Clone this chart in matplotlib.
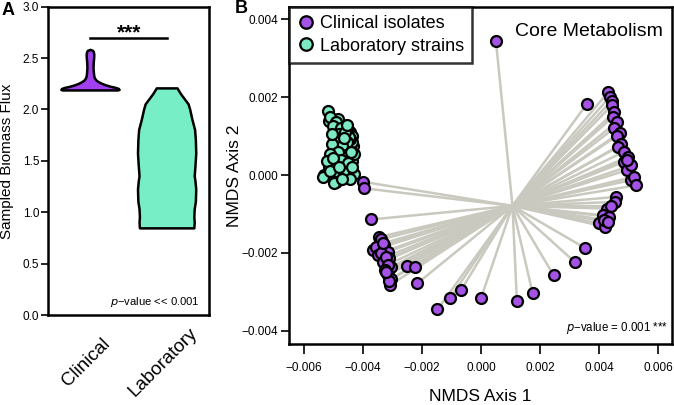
import matplotlib
matplotlib.use("Agg")
import matplotlib.pyplot as plt
import matplotlib.transforms as mtransforms
from matplotlib.lines import Line2D
import numpy as np

plt.rcParams['font.family'] = ['Liberation Sans', 'DejaVu Sans']

# ---------------- Data ----------------
# Panel A: violin outlines (y level, half-width)
groups = ["Clinical", "Laboratory"]
clin_violin_y = [2.185, 2.19, 2.20, 2.21, 2.22, 2.235, 2.25, 2.265, 2.28, 2.30, 2.32, 2.35, 2.40, 2.45, 2.50, 2.53, 2.555, 2.57, 2.58]
clin_violin_w = [0.36, 0.38, 0.37, 0.33, 0.27, 0.20, 0.15, 0.11, 0.08, 0.06, 0.05, 0.045, 0.04, 0.042, 0.048, 0.05, 0.045, 0.035, 0.0]
lab_violin_y = [0.843, 0.90, 0.95, 1.03, 1.10, 1.22, 1.30, 1.35, 1.45, 1.57, 1.70, 1.80, 1.90, 2.00, 2.05, 2.10, 2.15, 2.205]
lab_violin_w = [0.355, 0.36, 0.355, 0.36, 0.375, 0.38, 0.37, 0.36, 0.37, 0.38, 0.375, 0.365, 0.33, 0.30, 0.28, 0.23, 0.18, 0.135]
sig_y = 2.70

# Panel B: NMDS coordinates
clin_x = [0.51e-3, 3.59e-3, -3.72e-3, -4.01e-3, -3.95e-3, -2.52e-3, -2.23e-3, -2.15e-3,
          -1.47e-3, -1.05e-3, -0.66e-3, 0.00e-3, 1.22e-3, 1.75e-3, 2.46e-3, 3.19e-3, 3.52e-3,
          4.32e-3, 4.38e-3, 4.43e-3, 4.45e-3, 4.51e-3, 4.48e-3, 4.62e-3, 4.51e-3, 4.71e-3,
          4.60e-3, 4.76e-3, 4.66e-3, 4.85e-3, 5.00e-3, 4.85e-3, 4.96e-3, 5.08e-3, 5.19e-3,
          5.27e-3, 5.10e-3, 4.95e-3,
          4.57e-3, 4.54e-3, 4.28e-3, 4.40e-3, 4.12e-3, 4.34e-3, 4.00e-3, 4.22e-3, 4.18e-3, 4.30e-3,
          -3.44e-3, -3.38e-3, -3.67e-3, -3.55e-3, -3.27e-3, -3.16e-3, -3.50e-3, -3.40e-3, -3.10e-3,
          -3.33e-3, -3.22e-3, -3.05e-3, -3.15e-3, -3.16e-3, -3.25e-3, -3.03e-3, -3.08e-3, -3.12e-3,
          -3.30e-3, -3.20e-3]
clin_y = [3.44e-3, 1.83e-3, -1.14e-3, -0.17e-3, -0.34e-3, -2.34e-3, -2.37e-3, -2.78e-3,
          -3.45e-3, -3.17e-3, -2.94e-3, -3.17e-3, -3.24e-3, -3.03e-3, -2.57e-3, -2.24e-3, -1.87e-3,
          2.14e-3, 2.02e-3, 1.91e-3, 1.80e-3, 1.61e-3, 1.50e-3, 1.37e-3, 1.20e-3, 1.09e-3,
          1.00e-3, 0.79e-3, 0.73e-3, 0.60e-3, 0.47e-3, 0.34e-3, 0.13e-3, -0.13e-3, -0.04e-3,
          -0.26e-3, 0.25e-3, 0.40e-3,
          -0.56e-3, -0.69e-3, -0.86e-3, -0.80e-3, -1.03e-3, -1.07e-3, -1.24e-3, -1.33e-3, -1.15e-3, -1.20e-3,
          -1.59e-3, -1.65e-3, -1.93e-3, -1.85e-3, -1.80e-3, -1.97e-3, -2.06e-3, -2.00e-3, -2.14e-3,
          -2.23e-3, -2.10e-3, -2.37e-3, -2.30e-3, -2.57e-3, -2.45e-3, -2.66e-3, -2.83e-3, -2.72e-3,
          -1.75e-3, -2.50e-3]
lab_x = [-4.50e-3, -4.43e-3, -4.35e-3, -4.47e-3, -4.56e-3, -4.64e-3, -4.70e-3, -4.53e-3, -4.41e-3,
         -4.33e-3, -4.60e-3, -4.75e-3, -4.66e-3, -4.45e-3, -4.80e-3, -4.90e-3, -4.58e-3, -4.36e-3,
         -4.62e-3, -4.72e-3, -4.93e-3, -4.48e-3, -4.86e-3, -5.02e-3, -4.55e-3,
         -4.45e-3, -4.40e-3, -4.38e-3, -4.52e-3, -4.60e-3, -4.68e-3, -4.62e-3, -4.48e-3, -4.72e-3,
         -4.85e-3, -4.95e-3, -4.88e-3, -4.78e-3, -4.68e-3, -4.98e-3, -5.05e-3, -5.15e-3, -4.83e-3,
         -4.58e-3, -4.38e-3, -4.30e-3, -4.52e-3, -4.42e-3, -5.15e-3, -4.85e-3,
         -5.19e-3, -5.10e-3, -4.91e-3, -5.00e-3, -4.74e-3, -4.80e-3, -4.46e-3, -4.60e-3, -4.55e-3,
         -4.90e-3, -4.70e-3, -5.05e-3, -4.57e-3, -4.40e-3, -4.85e-3, -5.10e-3, -4.75e-3, -4.96e-3,
         -5.20e-3, -4.50e-3, -5.30e-3, -5.36e-3, -4.63e-3, -4.29e-3, -4.91e-3, -4.96e-3, -5.10e-3,
         -4.45e-3, -4.70e-3, -5.00e-3, -4.65e-3, -4.35e-3, -4.80e-3, -4.55e-3, -5.05e-3]
lab_y = [0.90e-3, 0.70e-3, 0.60e-3, 0.50e-3, 0.80e-3, 0.68e-3, 0.35e-3, 0.30e-3, 0.20e-3,
         0.75e-3, 1.00e-3, 0.65e-3, 0.15e-3, 1.10e-3, 0.30e-3, 0.55e-3, 0.02e-3, 1.00e-3,
         0.85e-3, 1.02e-3, 0.90e-3, 0.45e-3, 1.25e-3, 0.60e-3, 1.18e-3,
         0.75e-3, 0.45e-3, 0.85e-3, 0.65e-3, 0.40e-3, 0.55e-3, 0.25e-3, 0.15e-3, 0.88e-3,
         0.78e-3, 0.68e-3, 0.45e-3, 1.15e-3, 1.28e-3, 1.15e-3, 0.35e-3, 0.20e-3, 0.05e-3,
         -0.05e-3, 0.35e-3, 0.55e-3, 1.05e-3, 0.92e-3, 1.40e-3, 1.45e-3,
         1.65e-3, 1.50e-3, 1.37e-3, 1.25e-3, 1.20e-3, 1.05e-3, 0.98e-3, 1.10e-3, 0.85e-3,
         0.95e-3, 0.75e-3, 0.80e-3, 0.51e-3, 0.60e-3, 0.60e-3, 0.55e-3, 0.40e-3, 0.26e-3,
         0.35e-3, 0.30e-3, 0.00e-3, -0.04e-3, 0.07e-3, 0.04e-3, -0.17e-3, -0.21e-3, 0.10e-3,
         -0.10e-3, -0.10e-3, 0.45e-3, 0.95e-3, 0.20e-3, 0.20e-3, 1.30e-3, 1.05e-3]
clin_center = (1.07e-3, -0.79e-3)
lab_center = (-4.78e-3, 0.55e-3)

x_ticks = [-0.006, -0.004, -0.002, 0.0, 0.002, 0.004, 0.006]
y_ticks = [-0.004, -0.002, 0.0, 0.002, 0.004]

CLIN_V = "#A23FEE"
LAB_V = "#78EEC6"
CLIN_P = "#A552E6"
LAB_P = "#7CE8C4"
SPIDER = "#C9C9BF"

fig = plt.figure(figsize=(6.74, 4.05), dpi=100)

# ---------------- Panel A ----------------
axA = fig.add_axes([0.0717, 0.2222, 0.2388, 0.7613])
for pos, vy, vw, col in [(1, clin_violin_y, clin_violin_w, CLIN_V), (2, lab_violin_y, lab_violin_w, LAB_V)]:
    vy = np.array(vy); vw = np.array(vw)
    xs = np.concatenate([pos - vw, (pos + vw)[::-1]])
    ys = np.concatenate([vy, vy[::-1]])
    axA.fill(xs, ys, facecolor=col, edgecolor="black", linewidth=1.8, joinstyle="round", zorder=2)
axA.set_xlim(0.45, 2.55)
axA.set_ylim(0, 3.0)
axA.set_yticks([0.0, 0.5, 1.0, 1.5, 2.0, 2.5, 3.0])
axA.set_yticklabels(["0.0", "0.5", "1.0", "1.5", "2.0", "2.5", "3.0"], fontsize=8.5)
axA.tick_params(axis="y", length=5, width=1.2, pad=1.5)
axA.set_xticks([1, 2])
axA.set_xticklabels(groups, rotation=45, rotation_mode="anchor", fontsize=13.5)
axA.tick_params(axis="x", length=0, pad=0)
offset = mtransforms.ScaledTranslation(-4 / 100, -47 / 100, fig.dpi_scale_trans)
for lab in axA.get_xticklabels():
    lab.set_ha("center")
    lab.set_va("center")
    lab.set_transform(lab.get_transform() + offset)
for sp in axA.spines.values():
    sp.set_linewidth(1.8)
axA.set_ylabel("Sampled Biomass Flux", fontsize=11)
axA.yaxis.set_label_coords(-0.214, 0.5)
axA.plot([1, 2], [sig_y, sig_y], color="black", linewidth=1.8)
axA.text(1.5, 2.745, "***", ha="center", va="center", fontsize=15, fontweight="bold")
axA.text(2.43, 0.13, r"$p$" + "\u2212value << 0.001", ha="right", va="center", fontsize=8.1)
fig.text(0.003, 0.975, "A", fontsize=13, fontweight="bold", ha="left", va="center")

# ---------------- Panel B ----------------
axB = fig.add_axes([0.4288, 0.1506, 0.5685, 0.8321])
for x, y in zip(lab_x, lab_y):
    axB.plot([lab_center[0], x], [lab_center[1], y], color=SPIDER, linewidth=1.8, zorder=1)
for x, y in zip(clin_x, clin_y):
    axB.plot([clin_center[0], x], [clin_center[1], y], color=SPIDER, linewidth=1.8, zorder=1)
axB.scatter(lab_x, lab_y, s=62, facecolor=LAB_P, edgecolor="black", linewidth=1.6, zorder=3)
axB.scatter(clin_x, clin_y, s=62, facecolor=CLIN_P, edgecolor="black", linewidth=1.6, zorder=4)
axB.set_xlim(-0.0065, 0.00648)
axB.set_ylim(-0.00434, 0.00432)
axB.set_xticks(x_ticks)
axB.set_xticklabels(["\u22120.006", "\u22120.004", "\u22120.002", "0.000", "0.002", "0.004", "0.006"], fontsize=8.5)
axB.set_yticks(y_ticks)
axB.set_yticklabels(["\u22120.004", "\u22120.002", "0.000", "0.002", "0.004"], fontsize=8.5)
axB.tick_params(axis="x", length=7, width=1.2, pad=6)
axB.tick_params(axis="y", length=6, width=1.2, pad=2)
for sp in axB.spines.values():
    sp.set_linewidth(1.8)
axB.set_xlabel("NMDS Axis 1", fontsize=12.5)
axB.xaxis.set_label_coords(0.5, -0.133)
axB.set_ylabel("NMDS Axis 2", fontsize=12.5)
axB.yaxis.set_label_coords(-0.1227, 0.5)
axB.text(0.976, 0.926, "Core Metabolism", transform=axB.transAxes, ha="right", va="center", fontsize=14)
axB.text(0.99, 0.048, r"$p$" + "\u2212value = 0.001 ***", transform=axB.transAxes, ha="right", va="center", fontsize=8.3)

handles = [Line2D([], [], marker="o", linestyle="", markersize=9, markerfacecolor=CLIN_P,
                  markeredgecolor="black", markeredgewidth=1.6),
           Line2D([], [], marker="o", linestyle="", markersize=9, markerfacecolor=LAB_P,
                  markeredgecolor="black", markeredgewidth=1.6)]
leg = axB.legend(handles, ["Clinical isolates", "Laboratory strains"], loc="upper left",
                 bbox_to_anchor=(0, 1), borderaxespad=0, fontsize=13, frameon=True, fancybox=False,
                 handletextpad=0.25, handlelength=1.0, borderpad=0.45, labelspacing=0.3)
leg.get_frame().set_edgecolor("black")
leg.get_frame().set_linewidth(1.8)
leg.set_zorder(10)
fig.text(0.348, 0.978, "B", fontsize=13, fontweight="bold", ha="left", va="center")

fig.savefig("out.png", dpi=100)
